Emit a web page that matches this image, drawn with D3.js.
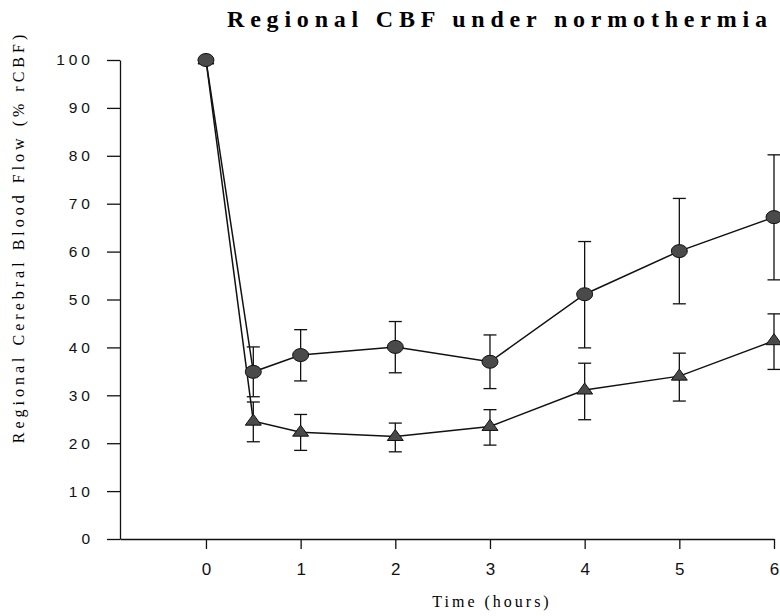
<!DOCTYPE html>
<html>
<head>
<meta charset="utf-8">
<script src="https://cdn.jsdelivr.net/npm/d3@7"></script>
<style>
  body { margin: 0; background: #fff; }
  svg { display: block; }
</style>
</head>
<body>
<div id="chart"></div>
<script>
// chart data
var hours = [0, 0.5, 1, 2, 3, 4, 5, 6];
var xTicks = [0, 1, 2, 3, 4, 5, 6];
var yTicks = [0, 10, 20, 30, 40, 50, 60, 70, 80, 90, 100];

// circle series (mean, upper and lower error bar ends)
var circleMean = [100, 34.9, 38.4, 40.1, 37.0, 51.1, 60.1, 67.2];
var circleHi   = [100, 40.1, 43.7, 45.4, 42.6, 62.1, 71.1, 80.2];
var circleLo   = [100, 29.7, 33.0, 34.7, 31.4, 39.9, 49.1, 54.1];

// triangle series
var triMean = [100, 24.6, 22.3, 21.4, 23.5, 31.1, 34.0, 41.4];
var triHi   = [100, 28.6, 26.0, 24.2, 27.0, 36.7, 38.8, 47.0];
var triLo   = [100, 20.3, 18.5, 18.2, 19.6, 24.9, 28.8, 35.4];

var width = 780;
var height = 616;

var svg = d3.select("#chart")
    .append("svg")
    .attr("width", width)
    .attr("height", height);

// scales: x axis starts at the y axis (x=120), 0h at 206, 6h at 774
var x = d3.scaleLinear()
    .domain([-0.908, 6])
    .range([120, 774]);

var y = d3.scaleLinear()
    .domain([0, 100])
    .range([539, 60]);

// title
svg.append("text")
    .attr("x", 227)
    .attr("y", 27)
    .style("font-family", "'Liberation Serif', 'Times New Roman', serif")
    .style("font-weight", "bold")
    .style("font-size", "24px")
    .style("letter-spacing", "5.8px")
    .text("Regional CBF under normothermia");

// y axis
var yAxis = svg.append("g")
    .attr("transform", "translate(120,0)")
    .call(d3.axisLeft(y).tickValues(yTicks).tickSize(13).tickSizeOuter(0).tickPadding(13));

yAxis.selectAll("text")
    .style("font-family", "Arial, 'Liberation Sans', sans-serif")
    .style("font-size", "15.5px")
    .style("letter-spacing", "4px")
    .attr("fill", "#111");

// x axis
var xAxis = svg.append("g")
    .attr("transform", "translate(0,539)")
    .call(d3.axisBottom(x).tickValues(xTicks).tickFormat(d3.format("d"))
        .tickSize(10).tickSizeOuter(0).tickPadding(14));

xAxis.selectAll("text")
    .style("font-family", "Arial, 'Liberation Sans', sans-serif")
    .style("font-size", "17px")
    .attr("fill", "#111");

svg.selectAll(".domain, .tick line")
    .attr("stroke", "#111")
    .attr("stroke-width", 1.3);

// axis titles
svg.append("text")
    .attr("x", 492)
    .attr("y", 607)
    .attr("text-anchor", "middle")
    .style("font-family", "'Liberation Serif', 'Times New Roman', serif")
    .style("font-size", "16px")
    .style("letter-spacing", "3px")
    .text("Time (hours)");

svg.append("text")
    .attr("transform", "translate(24,237) rotate(-90)")
    .attr("text-anchor", "middle")
    .style("font-family", "'Liberation Serif', 'Times New Roman', serif")
    .style("font-size", "16px")
    .style("letter-spacing", "4px")
    .text("Regional Cerebral Blood Flow (% rCBF)");

// build point tables for each series
function makeRows(mean, hi, lo) {
    return hours.map(function (h, i) {
        return { h: h, mean: mean[i], hi: hi[i], lo: lo[i] };
    });
}
var circleRows = makeRows(circleMean, circleHi, circleLo);
var triRows = makeRows(triMean, triHi, triLo);

var line = d3.line()
    .x(function (d) { return x(d.h); })
    .y(function (d) { return y(d.mean); });

[circleRows, triRows].forEach(function (rows) {
    svg.append("path")
        .datum(rows)
        .attr("d", line)
        .attr("fill", "none")
        .attr("stroke", "#111")
        .attr("stroke-width", 1.5);
});

// error bars
function drawErrors(rows) {
    var g = svg.append("g")
        .attr("stroke", "#111")
        .attr("stroke-width", 1.3);
    var bars = rows.filter(function (d) { return d.hi > d.lo; });
    g.selectAll(".v").data(bars).enter().append("line")
        .attr("x1", function (d) { return x(d.h); })
        .attr("x2", function (d) { return x(d.h); })
        .attr("y1", function (d) { return y(d.hi); })
        .attr("y2", function (d) { return y(d.lo); });
    ["hi", "lo"].forEach(function (k) {
        g.selectAll(".c" + k).data(bars).enter().append("line")
            .attr("x1", function (d) { return x(d.h) - 6.5; })
            .attr("x2", function (d) { return x(d.h) + 6.5; })
            .attr("y1", function (d) { return y(d[k]); })
            .attr("y2", function (d) { return y(d[k]); });
    });
}
drawErrors(circleRows);
drawErrors(triRows);

// triangle markers
svg.selectAll(".tri")
    .data(triRows)
    .enter().append("path")
    .attr("class", "tri")
    .attr("d", function (d) {
        var cx = x(d.h), cy = y(d.mean);
        return "M" + (cx - 8) + "," + (cy + 4) + "L" + (cx + 8) + "," + (cy + 4) + "L" + cx + "," + (cy - 7) + "Z";
    })
    .attr("fill", "#4a4a4a")
    .attr("stroke", "#111")
    .attr("stroke-width", 1);

// circle markers
svg.selectAll(".dot")
    .data(circleRows)
    .enter().append("ellipse")
    .attr("class", "dot")
    .attr("cx", function (d) { return x(d.h); })
    .attr("cy", function (d) { return y(d.mean); })
    .attr("rx", 8)
    .attr("ry", 6.5)
    .attr("fill", "#4a4a4a")
    .attr("stroke", "#111")
    .attr("stroke-width", 1);
</script>
</body>
</html>
